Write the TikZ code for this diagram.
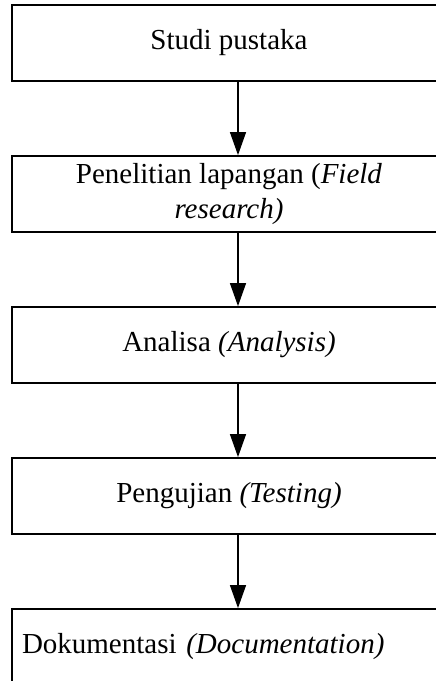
\documentclass[tikz,border=0pt]{standalone}
\usepackage{fontspec}
\setmainfont{Liberation Serif}
\usetikzlibrary{arrows.meta}

\begin{document}
\begin{tikzpicture}
[x=1pt,y=-1pt,%
  every node/.style={shape=rectangle,draw,line width=1.8pt,
    minimum width=434pt,minimum height=76pt,inner sep=0pt,
    font=\fontsize{29}{35}\selectfont},%
  flow/.style={line width=1.3pt,-{Triangle[length=23pt,width=16pt]}}]
\useasboundingbox (0,0) rectangle (436,681);
\clip (0,0) rectangle (436,681);
\node (studi) at (229,43) {Studi pustaka};
\node[align=center] (lapangan) at (229,194)
  {Penelitian lapangan (\textit{Field}\\\textit{research)}};
\node (analisa) at (229,345) {Analisa \textit{(Analysis)}};
\node (uji) at (229,496) {Pengujian \textit{(Testing)}};
\node[text width=414pt,align=left] (dok) at (229,647)
  {Dokumentasi \textit{(Documentation)}};
\draw[flow] ([xshift=9pt]studi.south) -- ([xshift=9pt]lapangan.north);
\draw[flow] ([xshift=9pt]lapangan.south) -- ([xshift=9pt]analisa.north);
\draw[flow] ([xshift=9pt]analisa.south) -- ([xshift=9pt]uji.north);
\draw[flow] ([xshift=9pt]uji.south) -- ([xshift=9pt]dok.north);
\end{tikzpicture}
\end{document}
